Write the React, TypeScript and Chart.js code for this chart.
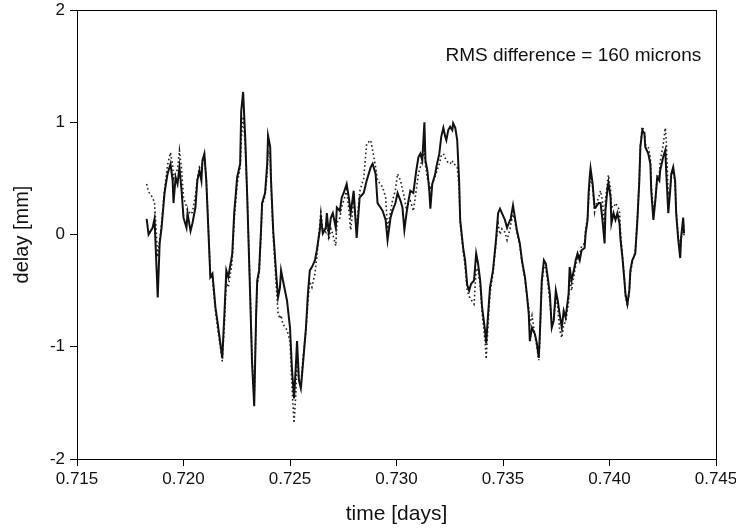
import { useEffect, useRef } from "react";
import { Chart, registerables } from "chart.js";

Chart.register(...registerables);

// time [days]
const times = [
  0.71827, 0.71836, 0.71855, 0.71864, 0.71879, 0.71888, 0.71897, 0.71911, 0.71925, 0.71939,
  0.71949, 0.71953, 0.71963, 0.71972, 0.71981, 0.71991, 0.72000, 0.72014, 0.72019, 0.72033,
  0.72042, 0.72056, 0.72065, 0.72075, 0.72084, 0.72089, 0.72098, 0.72107, 0.72117, 0.72126,
  0.72136, 0.72150, 0.72159, 0.72173, 0.72182, 0.72192, 0.72201, 0.72210, 0.72224, 0.72229,
  0.72238, 0.72252, 0.72266, 0.72271, 0.72280, 0.72290, 0.72299, 0.72313, 0.72322, 0.72332,
  0.72341, 0.72346, 0.72355, 0.72364, 0.72369, 0.72383, 0.72393, 0.72397, 0.72407, 0.72411,
  0.72421, 0.72435, 0.72444, 0.72453, 0.72458, 0.72467, 0.72486, 0.72500, 0.72509, 0.72519,
  0.72528, 0.72533, 0.72542, 0.72551, 0.72561, 0.72575, 0.72584, 0.72593, 0.72603, 0.72617,
  0.72626, 0.72640, 0.72645, 0.72654, 0.72668, 0.72673, 0.72682, 0.72692, 0.72701, 0.72715,
  0.72720, 0.72734, 0.72743, 0.72752, 0.72766, 0.72776, 0.72785, 0.72799, 0.72813, 0.72827,
  0.72846, 0.72860, 0.72879, 0.72888, 0.72902, 0.72911, 0.72925, 0.72935, 0.72949, 0.72958,
  0.72972, 0.72981, 0.72995, 0.73005, 0.73019, 0.73028, 0.73037, 0.73047, 0.73056, 0.73065,
  0.73079, 0.73093, 0.73103, 0.73112, 0.73121, 0.73131, 0.73136, 0.73145, 0.73154, 0.73159,
  0.73168, 0.73182, 0.73187, 0.73201, 0.73210, 0.73220, 0.73229, 0.73234, 0.73243, 0.73252,
  0.73262, 0.73266, 0.73276, 0.73285, 0.73294, 0.73299, 0.73313, 0.73322, 0.73332, 0.73341,
  0.73350, 0.73364, 0.73374, 0.73383, 0.73393, 0.73402, 0.73416, 0.73421, 0.73430, 0.73439,
  0.73453, 0.73467, 0.73477, 0.73486, 0.73495, 0.73509, 0.73519, 0.73533, 0.73537, 0.73547,
  0.73556, 0.73565, 0.73579, 0.73589, 0.73603, 0.73612, 0.73621, 0.73626, 0.73636, 0.73650,
  0.73659, 0.73668, 0.73673, 0.73682, 0.73692, 0.73701, 0.73710, 0.73720, 0.73729, 0.73738,
  0.73748, 0.73757, 0.73766, 0.73776, 0.73785, 0.73794, 0.73808, 0.73813, 0.73822, 0.73836,
  0.73841, 0.73850, 0.73860, 0.73869, 0.73883, 0.73888, 0.73897, 0.73902, 0.73907, 0.73911,
  0.73921, 0.73930, 0.73935, 0.73949, 0.73958, 0.73967, 0.73977, 0.73981, 0.73991, 0.73995,
  0.74005, 0.74009, 0.74019, 0.74028, 0.74037, 0.74047, 0.74051, 0.74061, 0.74070, 0.74075,
  0.74084, 0.74093, 0.74098, 0.74107, 0.74121, 0.74131, 0.74140, 0.74145, 0.74154, 0.74164,
  0.74168, 0.74182, 0.74192, 0.74196, 0.74206, 0.74215, 0.74224, 0.74234, 0.74238, 0.74252,
  0.74262, 0.74266, 0.74276, 0.74285, 0.74290, 0.74299, 0.74308, 0.74313, 0.74322, 0.74332,
  0.74336, 0.74346, 0.74350,
];

// solid trace, delay [mm]
const solidDelay = [
  0.14, 0.00, 0.06, 0.14, -0.56, -0.08, 0.06, 0.37, 0.54, 0.63,
  0.48, 0.28, 0.51, 0.45, 0.60, 0.39, 0.15, 0.06, 0.19, 0.03,
  0.10, 0.24, 0.48, 0.57, 0.48, 0.66, 0.72, 0.48, 0.03, -0.38,
  -0.35, -0.65, -0.77, -0.97, -1.10, -0.71, -0.32, -0.38, -0.23, -0.17,
  0.19, 0.51, 0.63, 1.10, 1.27, 0.85, 0.35, -0.55, -1.15, -1.53,
  -0.71, -0.41, -0.32, 0.04, 0.28, 0.37, 0.63, 0.88, 0.78, 0.48,
  0.04, -0.35, -0.56, -0.47, -0.32, -0.41, -0.59, -0.83, -1.19, -1.46,
  -1.15, -0.95, -1.30, -1.37, -1.15, -0.83, -0.53, -0.32, -0.29, -0.23,
  -0.14, 0.04, 0.15, 0.01, 0.06, 0.19, 0.01, 0.15, 0.19, 0.06,
  0.24, 0.21, 0.33, 0.37, 0.45, 0.33, 0.19, 0.39, -0.03, 0.33,
  0.37, 0.48, 0.60, 0.63, 0.54, 0.28, 0.24, 0.21, 0.13, -0.05,
  0.15, 0.21, 0.28, 0.37, 0.30, 0.24, 0.04, 0.19, 0.30, 0.39,
  0.37, 0.57, 0.69, 0.72, 0.66, 1.00, 0.66, 0.57, 0.39, 0.23,
  0.45, 0.54, 0.60, 0.72, 0.87, 0.95, 0.87, 0.84, 0.93, 0.96,
  0.93, 0.99, 0.95, 0.84, 0.48, 0.13, -0.12, -0.23, -0.45, -0.50,
  -0.44, -0.41, -0.17, -0.26, -0.41, -0.65, -0.86, -0.97, -0.71, -0.47,
  -0.32, -0.05, 0.19, 0.23, 0.19, 0.13, 0.06, 0.13, 0.15, 0.26,
  0.15, 0.04, -0.08, -0.23, -0.38, -0.53, -0.71, -0.95, -0.83, -0.89,
  -0.97, -1.10, -0.89, -0.41, -0.23, -0.26, -0.38, -0.53, -0.83, -0.77,
  -0.50, -0.59, -0.71, -0.83, -0.68, -0.74, -0.53, -0.29, -0.41, -0.29,
  -0.23, -0.17, -0.23, -0.14, -0.12, 0.01, 0.13, 0.37, 0.51, 0.59,
  0.45, 0.24, 0.24, 0.28, 0.28, 0.13, -0.08, 0.21, 0.42, 0.46,
  0.33, 0.10, 0.19, 0.13, 0.19, 0.10, -0.03, -0.21, -0.41, -0.53,
  -0.62, -0.50, -0.32, -0.23, -0.17, 0.13, 0.48, 0.78, 0.93, 0.90,
  0.78, 0.72, 0.63, 0.39, 0.13, 0.30, 0.51, 0.48, 0.57, 0.69,
  0.75, 0.57, 0.19, 0.39, 0.54, 0.60, 0.48, 0.19, -0.03, -0.21,
  -0.03, 0.15, 0.01,
];

// dotted trace, delay [mm]
const dottedDelay = [
  0.45, 0.38, 0.33, 0.28, -0.20, -0.05, 0.10, 0.40, 0.62, 0.73,
  0.62, 0.50, 0.55, 0.58, 0.75, 0.58, 0.33, 0.25, 0.22, 0.18,
  0.20, 0.35, 0.50, 0.60, 0.58, 0.64, 0.70, 0.50, 0.05, -0.35,
  -0.40, -0.68, -0.82, -1.00, -1.13, -0.80, -0.42, -0.47, -0.30, -0.22,
  0.12, 0.45, 0.60, 0.85, 1.05, 0.80, 0.35, -0.50, -1.10, -1.45,
  -0.75, -0.45, -0.35, 0.00, 0.25, 0.35, 0.55, 0.75, 0.70, 0.45,
  0.00, -0.45, -0.70, -0.75, -0.72, -0.80, -0.85, -0.95, -1.35, -1.68,
  -1.40, -1.05, -1.32, -1.35, -1.10, -0.85, -0.60, -0.42, -0.47, -0.35,
  -0.20, 0.10, 0.20, 0.05, 0.02, 0.12, -0.05, 0.05, 0.00, -0.10,
  0.10, 0.15, 0.25, 0.30, 0.40, 0.22, 0.04, 0.30, 0.06, 0.38,
  0.50, 0.81, 0.84, 0.75, 0.60, 0.48, 0.45, 0.42, 0.33, 0.05,
  0.20, 0.30, 0.40, 0.54, 0.48, 0.40, 0.33, 0.22, 0.28, 0.30,
  0.21, 0.40, 0.54, 0.60, 0.68, 0.75, 0.62, 0.50, 0.45, 0.40,
  0.45, 0.52, 0.55, 0.63, 0.70, 0.72, 0.68, 0.66, 0.64, 0.63,
  0.66, 0.63, 0.62, 0.60, 0.42, 0.10, -0.15, -0.28, -0.50, -0.55,
  -0.58, -0.62, -0.30, -0.32, -0.45, -0.70, -0.95, -1.11, -0.80, -0.52,
  -0.35, -0.08, 0.10, 0.00, 0.05, 0.02, -0.05, 0.05, 0.10, 0.18,
  0.12, 0.02, -0.10, -0.25, -0.40, -0.55, -0.65, -0.80, -0.72, -0.90,
  -1.00, -1.12, -0.95, -0.45, -0.28, -0.30, -0.42, -0.60, -0.80, -0.75,
  -0.55, -0.65, -0.85, -0.92, -0.80, -0.78, -0.60, -0.38, -0.50, -0.33,
  -0.28, -0.20, -0.18, -0.10, -0.08, 0.05, 0.15, 0.30, 0.45, 0.52,
  0.42, 0.20, 0.25, 0.33, 0.39, 0.30, 0.05, 0.30, 0.48, 0.53,
  0.40, 0.25, 0.24, 0.28, 0.25, 0.22, 0.05, -0.20, -0.40, -0.55,
  -0.64, -0.50, -0.35, -0.25, -0.15, 0.15, 0.50, 0.80, 0.96, 0.92,
  0.80, 0.78, 0.68, 0.45, 0.20, 0.30, 0.50, 0.55, 0.65, 0.80,
  0.95, 0.85, 0.35, 0.40, 0.52, 0.58, 0.45, 0.22, 0.00, -0.15,
  -0.05, 0.10, -0.01,
];

const xTickValues = [0.715, 0.72, 0.725, 0.73, 0.735, 0.74, 0.745];
const yTickValues = [-2, -1, 0, 1, 2];
const xTitle = "time [days]";
const yTitle = "delay [mm]";
const annotationText = "RMS difference = 160 microns";
const annotationTime = 0.7323;
const annotationDelay = 1.59;

const FONT = "'Liberation Sans', Arial, Helvetica, sans-serif";

const framePlugin = {
  id: "frame",
  afterDraw(chart: any) {
    const { ctx, chartArea } = chart;
    ctx.save();
    ctx.strokeStyle = "#000";
    ctx.lineWidth = 1;
    ctx.strokeRect(
      Math.round(chartArea.left) + 0.5,
      Math.round(chartArea.top) + 0.5,
      Math.round(chartArea.right - chartArea.left),
      Math.round(chartArea.bottom - chartArea.top)
    );
    const x = chart.scales.x.getPixelForValue(annotationTime);
    const y = chart.scales.y.getPixelForValue(annotationDelay);
    ctx.fillStyle = "#111";
    ctx.font = `19px ${FONT}`;
    ctx.textAlign = "left";
    ctx.textBaseline = "middle";
    ctx.fillText(annotationText, x, y);
    ctx.restore();
  },
};

export default function App() {
  const ref = useRef<HTMLCanvasElement>(null);

  useEffect(() => {
    document.body.style.margin = "0";
    const canvas = ref.current;
    if (!canvas) return;
    const solid = times.map((t, i) => ({ x: t, y: solidDelay[i] }));
    const dotted = times.map((t, i) => ({ x: t, y: dottedDelay[i] }));

    const chart = new Chart(canvas, {
      type: "line",
      data: {
        datasets: [
          {
            label: "solid",
            data: solid,
            borderColor: "#111",
            borderWidth: 2,
            pointRadius: 0,
            tension: 0,
            fill: false,
          },
          {
            label: "dotted",
            data: dotted,
            borderColor: "#222",
            borderWidth: 1.6,
            borderDash: [1.6, 2.6],
            pointRadius: 0,
            tension: 0,
            fill: false,
          },
        ],
      },
      options: {
        animation: false,
        responsive: true,
        maintainAspectRatio: false,
        layout: { padding: { top: 10, right: 20, left: 0, bottom: 0 } },
        plugins: { legend: { display: false }, tooltip: { enabled: false } },
        scales: {
          x: {
            type: "linear",
            min: 0.715,
            max: 0.745,
            grid: { display: true, drawOnChartArea: false, drawTicks: true, tickLength: 7, color: "#000" },
            border: { display: true, color: "#000", width: 1 },
            ticks: {
              color: "#111",
              padding: 3,
              autoSkip: false,
              maxRotation: 0,
              font: { family: FONT, size: 17 },
              callback: (v: any) => Number(v).toFixed(3),
            },
            afterBuildTicks: (s: any) => {
              s.ticks = xTickValues.map((v) => ({ value: v }));
            },
            afterFit: (s: any) => {
              s.height = 73;
              s.paddingLeft = 0;
              s.paddingRight = 0;
            },
            title: {
              display: true,
              text: xTitle,
              color: "#111",
              font: { family: FONT, size: 21 },
              padding: { top: 0, bottom: 5 },
            },
          },
          y: {
            type: "linear",
            min: -2,
            max: 2,
            grid: { display: true, drawOnChartArea: false, drawTicks: true, tickLength: 7, color: "#000" },
            border: { display: true, color: "#000", width: 1 },
            ticks: {
              color: "#111",
              padding: 5,
              font: { family: FONT, size: 17 },
              callback: (v: any) => String(v),
            },
            afterBuildTicks: (s: any) => {
              s.ticks = yTickValues.map((v) => ({ value: v }));
            },
            afterFit: (s: any) => {
              s.width = 77;
              s.paddingTop = 0;
              s.paddingBottom = 0;
            },
            title: {
              display: true,
              text: yTitle,
              color: "#111",
              font: { family: FONT, size: 20 },
              padding: { top: 10, bottom: 0 },
            },
          },
        },
      },
      plugins: [framePlugin],
    });
    return () => chart.destroy();
  }, []);

  return (
    <div style={{ width: 736, height: 532, position: "relative", background: "#fff" }}>
      <canvas ref={ref} />
    </div>
  );
}
